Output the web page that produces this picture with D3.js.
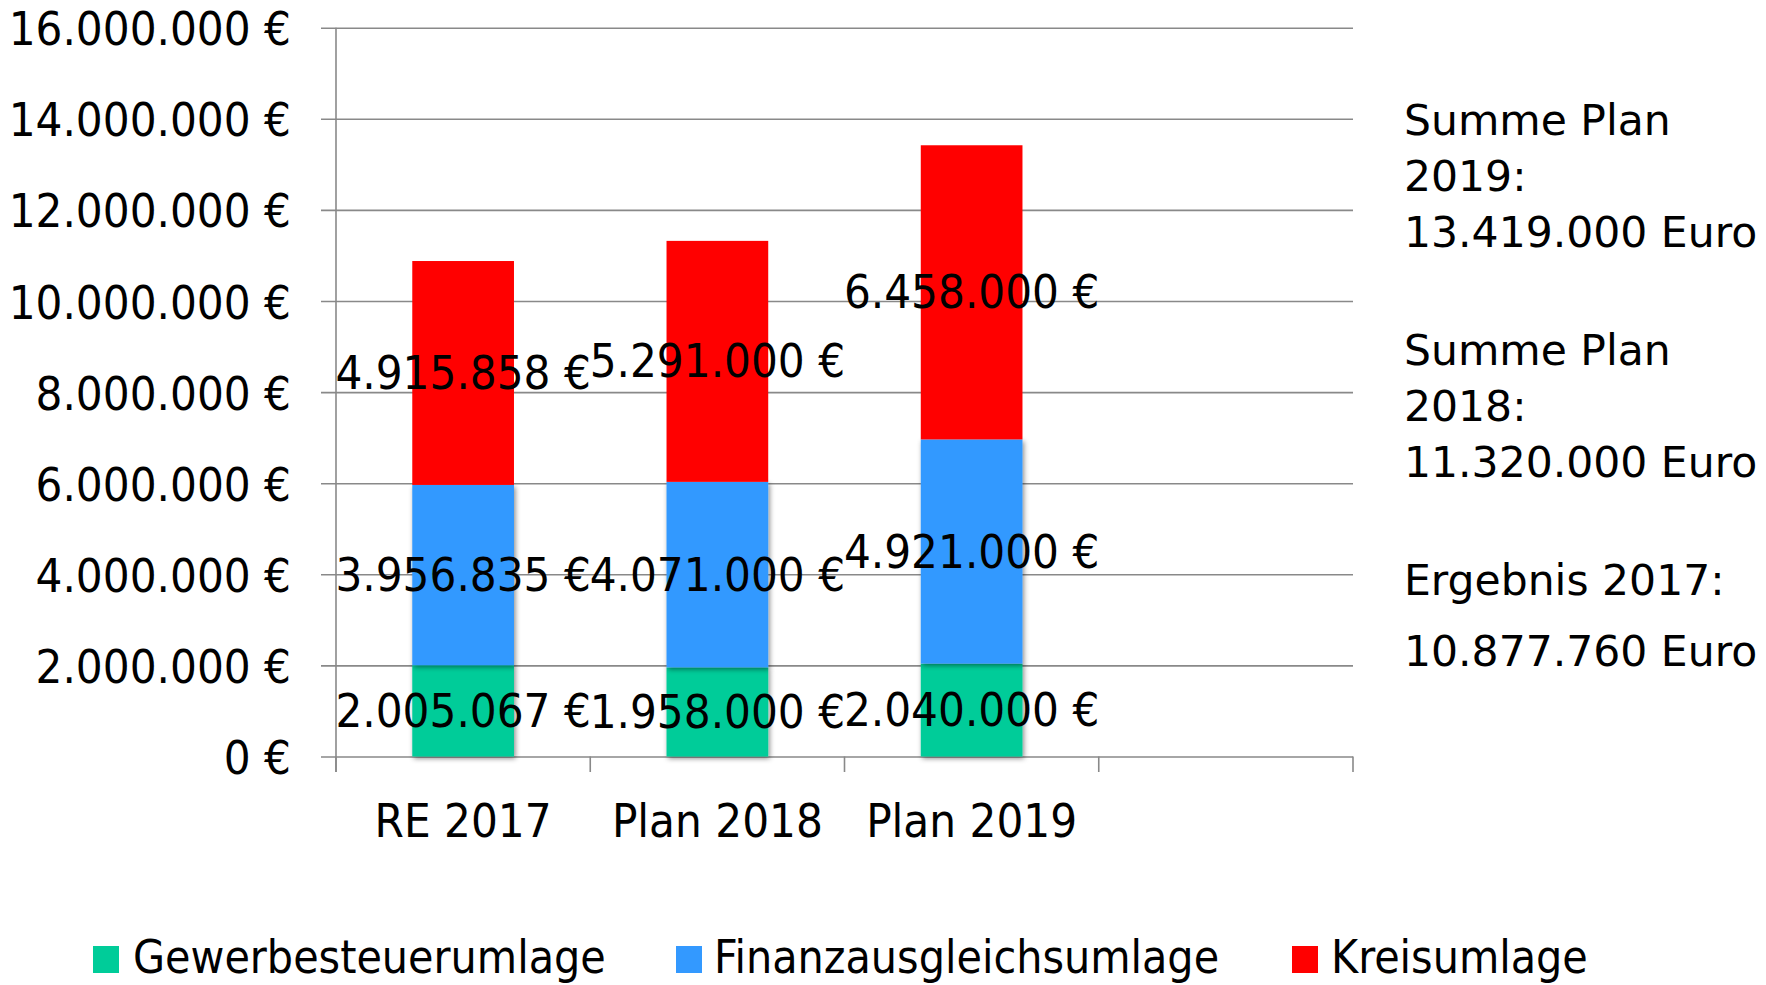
<!DOCTYPE html>
<html>
<head>
<meta charset="utf-8">
<script src="https://cdn.jsdelivr.net/npm/d3@7"></script>
<style>
  html, body { margin: 0; padding: 0; background: #fff; }
  svg { display: block; }
  .tah { font-family: "DejaVu Sans Condensed", "DejaVu Sans", sans-serif; font-stretch: condensed; }
  .ver { font-family: "DejaVu Sans", Verdana, sans-serif; }
</style>
</head>
<body>
<svg id="chart" width="1766" height="985"></svg>
<script>
// ---- data ----
const categories = ["RE 2017", "Plan 2018", "Plan 2019", ""];
const gewerbesteuerumlage = [2005067, 1958000, 2040000];
const finanzausgleichsumlage = [3956835, 4071000, 4921000];
const kreisumlage = [4915858, 5291000, 6458000];
const seriesNames = ["Gewerbesteuerumlage", "Finanzausgleichsumlage", "Kreisumlage"];
const seriesColors = ["#00CC99", "#3399FF", "#FF0000"];
const yTickValues = [0, 2000000, 4000000, 6000000, 8000000, 10000000, 12000000, 14000000, 16000000];
const noteBlocks = [
  ["Summe Plan", "2019:", "13.419.000 Euro"],
  ["Summe Plan", "2018:", "11.320.000 Euro"],
  ["Ergebnis 2017:", "10.877.760 Euro"]
];

// ---- layout ----
const W = 1766, H = 985;
const plotL = 336, plotR = 1353, plotT = 27.7, plotB = 756.5;
const fs = 47;
const svg = d3.select("#chart");

const de = d3.formatLocale({ decimal: ",", thousands: ".", grouping: [3], currency: ["", " €"] });
const fmt = v => de.format(",")(v) + " €";

const x = d3.scaleBand().domain(categories).range([plotL, plotR]).padding(0);
const y = d3.scaleLinear().domain([0, 16000000]).range([plotB, plotT]);

// shadow filter
const defs = svg.append("defs");
const f = defs.append("filter").attr("id", "shadow").attr("x", "-20%").attr("y", "-20%").attr("width", "140%").attr("height", "140%");
f.append("feDropShadow").attr("dx", 1.5).attr("dy", 2).attr("stdDeviation", 2.5)
  .attr("flood-color", "#000").attr("flood-opacity", 0.45);

// gridlines + y tick labels
const yAxis = d3.axisLeft(y).tickValues(yTickValues).tickSize(plotR - 321).tickPadding(30).tickFormat(fmt);
const gy = svg.append("g").attr("transform", `translate(${plotR},0)`).call(yAxis);
gy.select(".domain").remove();
gy.selectAll(".tick line").attr("stroke", "#898989").attr("stroke-width", 1.6);
gy.selectAll(".tick text").attr("class", "tah").attr("font-size", fs).attr("fill", "#000")
  .attr("dy", null).attr("y", 17);

// y axis line
svg.append("line").attr("x1", plotL).attr("x2", plotL).attr("y1", y(16000000)).attr("y2", plotB + 15.5)
  .attr("stroke", "#898989").attr("stroke-width", 1.6);

// x axis ticks at band boundaries
const bounds = categories.map(c => x(c)).concat([plotR]);
svg.append("g").selectAll("line").data(bounds).join("line")
  .attr("x1", d => d).attr("x2", d => d).attr("y1", plotB).attr("y2", plotB + 15.5)
  .attr("stroke", "#898989").attr("stroke-width", 1.6);

// stacked bars
const rows = categories.slice(0, 3).map((c, i) => ({
  cat: c,
  [seriesNames[0]]: gewerbesteuerumlage[i],
  [seriesNames[1]]: finanzausgleichsumlage[i],
  [seriesNames[2]]: kreisumlage[i]
}));
const stacked = d3.stack().keys(seriesNames)(rows);
const bw = x.bandwidth() * 0.4;

stacked.forEach((s, si) => {
  const g = svg.append("g");
  if (si < 2) g.attr("filter", "url(#shadow)");
  g.selectAll("rect").data(s).join("rect")
    .attr("x", d => x(d.data.cat) + x.bandwidth() / 2 - bw / 2)
    .attr("width", bw)
    .attr("y", d => y(d[1]))
    .attr("height", d => y(d[0]) - y(d[1]))
    .attr("fill", seriesColors[si]);
});

// data labels
stacked.forEach((s, si) => {
  svg.append("g").selectAll("text").data(s).join("text")
    .attr("class", "tah")
    .attr("font-size", fs)
    .attr("text-anchor", "middle")
    .attr("x", d => x(d.data.cat) + x.bandwidth() / 2)
    .attr("y", d => (y(d[0]) + y(d[1])) / 2 + 16)
    .text(d => fmt(d[1] - d[0]));
});

// category labels
svg.append("g").selectAll("text").data(categories).join("text")
  .attr("class", "tah").attr("font-size", fs).attr("text-anchor", "middle")
  .attr("x", d => x(d) + x.bandwidth() / 2).attr("y", 837)
  .text(d => d);

// side notes
const noteBaselines = [[135, 191, 247], [365, 421, 477], [595, 666]];
noteBlocks.forEach((lines, bi) => {
  lines.forEach((t, li) => {
    svg.append("text").attr("class", "ver").attr("font-size", 42.5)
      .attr("x", 1404).attr("y", noteBaselines[bi][li]).text(t);
  });
});

// legend
const legendSquareX = [93, 676, 1292];
const legendTextX = [133, 714, 1331];
const lg = svg.append("g");
seriesNames.forEach((n, i) => {
  lg.append("rect").attr("x", legendSquareX[i]).attr("y", 946).attr("width", 26).attr("height", 27)
    .attr("fill", seriesColors[i]);
  lg.append("text").attr("class", "tah").attr("font-size", 46)
    .attr("x", legendTextX[i]).attr("y", 973).text(n);
});
</script>
</body>
</html>
